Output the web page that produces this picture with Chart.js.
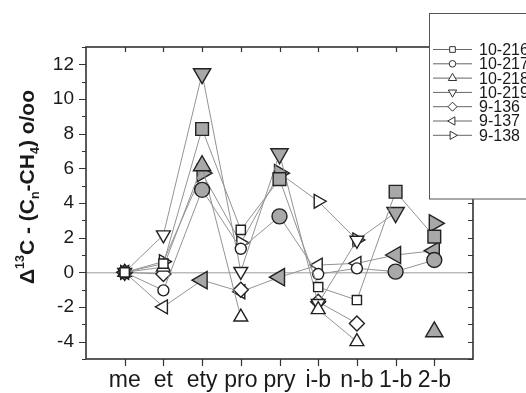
<!DOCTYPE html>
<html><head><meta charset="utf-8">
<script src="https://cdn.jsdelivr.net/npm/chart.js@4/dist/chart.umd.min.js"></script>
<style>html,body{margin:0;padding:0;background:#fff;}</style>
</head><body>
<canvas id="c" width="526" height="393"></canvas>
<script>
// ---- data ----
const categories = ['me','et','ety','pro','pry','i-b','n-b','1-b','2-b'];
const seriesNames = ['10-216','10-217','10-218','10-219','9-136','9-137','9-138'];
const s10_216 = [0, 0.5, 8.27, 2.45, 5.38, -0.85, -1.6, 4.65, 2.06];
const s10_217 = [0, -1.04, 4.76, 1.36, 3.23, -0.1, 0.23, 0.04, 0.71];
const s10_218 = [0, 0.3, 6.15, -2.58, null, -2.15, -4.0, null, -3.43];
const s10_219 = [0, 2.16, 11.46, 0.05, 6.84, -1.8, 1.85, 3.45, null];
const s9_136 = [0, -0.1, null, -1.0, null, -1.7, -2.95, null, null];
const s9_137 = [0, -1.99, -0.45, -1.12, -0.28, 0.42, 0.52, 1.0, 1.25];
const s9_138 = [0, 0.62, 5.72, 1.7, 5.72, 4.1, 1.87, null, 2.83];
const yTickValues = [-4, -2, 0, 2, 4, 6, 8, 10, 12];
const filledCategories = ['ety', 'pry', '1-b', '2-b'];
const allSeries = [s10_216, s10_217, s10_218, s10_219, s9_136, s9_137, s9_138];

// ---- styles ----
const shapeDefs = [
  {style:'rect', rot:0, r:[6.5, 9], lr:4},
  {style:'circle', rot:0, r:[5.5, 7.5], lr:3.3},
  {style:'triangle', rot:0, r:[8, 10], lr:4.8},
  {style:'triangle', rot:180, r:[8, 10], lr:4.8},
  {style:'rectRot', rot:0, r:[7.5, 9.5], lr:4.5},
  {style:'triangle', rot:-90, r:[8, 10], lr:4.8},
  {style:'triangle', rot:90, r:[8, 10], lr:4.8}
];
const FILL = '#a8a8a8';
const EDGE = '#222';
const LINE = '#939393';
const isFilled = i => filledCategories.includes(categories[i]);

const datasets = allSeries.map((vals, k) => {
  const sd = shapeDefs[k];
  return {
    label: seriesNames[k],
    data: vals.map((v, i) => ({x: i + 1, y: v})),
    borderColor: LINE,
    borderWidth: 1,
    spanGaps: false,
    pointStyle: sd.style,
    pointRotation: sd.rot,
    pointRadius: c => sd.r[isFilled(c.dataIndex) ? 1 : 0],
    pointBackgroundColor: c => isFilled(c.dataIndex) ? FILL : '#fff',
    pointBorderColor: EDGE,
    pointBorderWidth: 1.4,
    tension: 0
  };
});

const FONT = '"Liberation Sans", Arial, sans-serif';

const framePlugin = {
  id: 'frame',
  beforeDatasetsDraw(chart) {
    const {ctx, chartArea: a, scales: {x, y}} = chart;
    ctx.save();
    const y0 = y.getPixelForValue(0);
    ctx.strokeStyle = '#9a9a9a'; ctx.lineWidth = 1;
    ctx.beginPath(); ctx.moveTo(a.left, y0 + 0.5); ctx.lineTo(a.right, y0 + 0.5); ctx.stroke();
    ctx.strokeStyle = '#333'; ctx.lineWidth = 1.6;
    ctx.strokeRect(a.left, a.top, a.right - a.left, a.bottom - a.top);
    ctx.lineWidth = 1.2;
    ctx.beginPath();
    for (let v = -5; v <= 13; v++) {
      const py = Math.round(y.getPixelForValue(v)) + 0.5;
      const major = (v % 2 === 0);
      ctx.moveTo(a.left, py); ctx.lineTo(a.left - (major ? 7 : 4), py);
      ctx.moveTo(a.right, py); ctx.lineTo(a.right - 5, py);
    }
    for (let i = 0; i < categories.length; i++) {
      const px = Math.round(x.getPixelForValue(i + 1)) + 0.5;
      ctx.moveTo(px, a.bottom); ctx.lineTo(px, a.bottom + 7);
      ctx.moveTo(px, a.top); ctx.lineTo(px, a.top + 5);
    }
    ctx.stroke();
    ctx.restore();
  },
  afterDraw(chart) {
    const {ctx} = chart;
    ctx.save();
    const segs = [
      {t:'\u0394', s:21, dy:0},
      {t:'13', s:12.5, dy:-9.5},
      {t:'C - (C', s:21, dy:0},
      {t:'n', s:12.5, dy:5},
      {t:'-CH', s:21, dy:0},
      {t:'4', s:12.5, dy:5},
      {t:') o/oo', s:21, dy:0}
    ];
    let total = 0;
    segs.forEach(sg => { ctx.font = 'bold ' + sg.s + 'px ' + FONT; sg.w = ctx.measureText(sg.t).width; total += sg.w; });
    ctx.translate(33.5, 187);
    ctx.rotate(-Math.PI / 2);
    ctx.fillStyle = '#1a1a1a';
    ctx.textBaseline = 'alphabetic';
    let lx = -total / 2;
    segs.forEach(sg => {
      ctx.font = 'bold ' + sg.s + 'px ' + FONT;
      ctx.fillText(sg.t, lx, sg.dy);
      lx += sg.w;
    });
    ctx.restore();

    ctx.save();
    ctx.fillStyle = '#fff'; ctx.strokeStyle = '#555'; ctx.lineWidth = 1;
    ctx.fillRect(429.5, 13.5, 120, 185.5);
    ctx.strokeRect(429.5, 13.5, 120, 185.5);
    chart.data.datasets.forEach((ds, k) => {
      const yy = 49.5 + k * 14.3;
      ctx.strokeStyle = '#666'; ctx.lineWidth = 1;
      ctx.beginPath(); ctx.moveTo(433, yy); ctx.lineTo(472, yy); ctx.stroke();
      const sd = shapeDefs[k];
      ctx.fillStyle = '#fff'; ctx.strokeStyle = '#333'; ctx.lineWidth = 1;
      Chart.helpers.drawPoint(ctx, {pointStyle: sd.style, rotation: sd.rot, radius: sd.lr, borderWidth: 1}, 452.5, yy);
      ctx.fillStyle = '#1a1a1a';
      ctx.font = '16px ' + FONT;
      ctx.textBaseline = 'middle';
      ctx.textAlign = 'left';
      ctx.fillText(ds.label, 479, yy + 1);
    });
    ctx.restore();
  }
};

new Chart(document.getElementById('c'), {
  type: 'line',
  data: {datasets},
  options: {
    responsive: false,
    devicePixelRatio: 1,
    animation: false,
    layout: {padding: {left: 0, right: 53, top: 47, bottom: 0}},
    plugins: {legend: {display: false}, tooltip: {enabled: false}},
    scales: {
      x: {
        type: 'linear', min: 0, max: 10,
        afterFit: s => { s.height = 34; },
        grid: {display: false, drawTicks: false},
        border: {display: false},
        ticks: {
          stepSize: 1, autoSkip: false, maxRotation: 0, padding: 8,
          color: '#1a1a1a',
          font: {family: FONT, size: 23},
          callback: v => { const i = Math.round(v) - 1; return (Math.abs(v - Math.round(v)) < 1e-6 && categories[i]) ? categories[i] : ''; }
        }
      },
      y: {
        type: 'linear', min: -5, max: 13,
        afterFit: s => { s.width = 86; },
        grid: {display: false, drawTicks: false},
        border: {display: false},
        ticks: {
          stepSize: 1, autoSkip: false, padding: 12,
          color: '#1a1a1a',
          font: {family: FONT, size: 19},
          callback: v => yTickValues.includes(v) ? String(v) : ''
        }
      }
    }
  },
  plugins: [framePlugin]
});
</script>
</body></html>
